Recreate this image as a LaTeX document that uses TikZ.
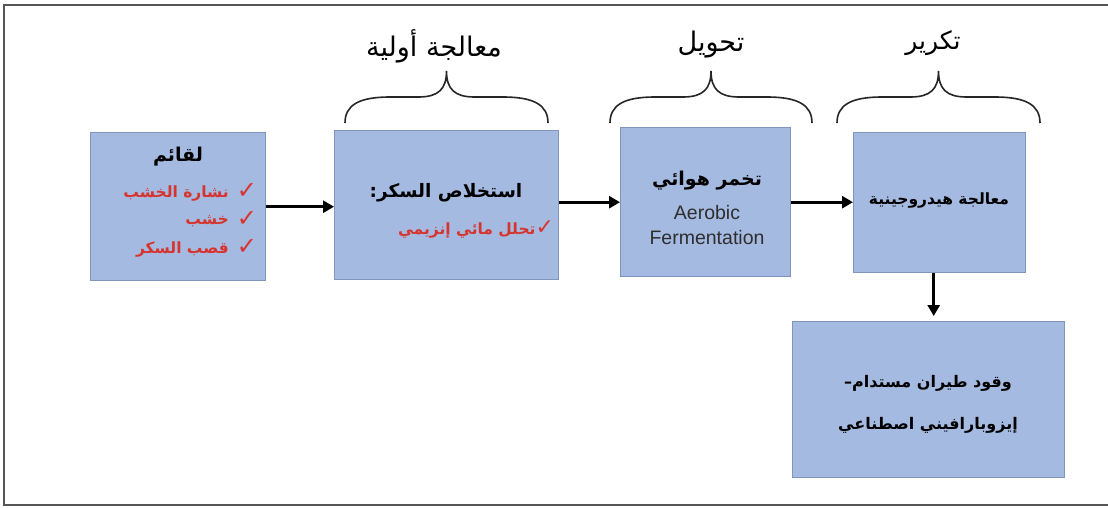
\documentclass[tikz,border=0pt]{standalone}
\usepackage{fontspec}
\setmainfont{Liberation Sans}
\newfontfamily\arabicfont[Script=Arabic]{DejaVu Sans}
\newfontfamily\symbolfont{DejaVu Sans}
\TeXXeTstate=1
\usetikzlibrary{arrows.meta}

\definecolor{boxfill}{HTML}{A5BAE1}
\definecolor{boxline}{HTML}{8194BE}
\definecolor{itemred}{HTML}{D6352F}
\definecolor{framegray}{HTML}{555555}
\definecolor{engtext}{HTML}{2E2E2E}

% right-to-left Arabic run
\newcommand{\artext}[1]{\beginR #1\endR}
% curly brace over a stage: left x, right x
\newcommand{\stagebrace}[2]{%
  \draw[bracepath] (#1,123) .. controls (#1,105) and ({#1+14},97) .. ({#1+45},97)
    -- ({(#1+#2)/2-28},97) .. controls ({(#1+#2)/2-8},97) and ({(#1+#2)/2},89) .. ({(#1+#2)/2},71)
    .. controls ({(#1+#2)/2},89) and ({(#1+#2)/2+8},97) .. ({(#1+#2)/2+28},97)
    -- ({#2-45},97) .. controls ({#2-14},97) and (#2,105) .. (#2,123);}

\begin{document}
\begin{tikzpicture}[x=1pt,y=-1pt,
  stagebox/.style={draw=boxline, fill=boxfill, line width=1.4pt, inner sep=0pt, anchor=north west},
  flowarrow/.style={-{Triangle[length=11pt,width=12pt]}, line width=3pt, black},
  bracepath/.style={line width=1.6pt, black!85},
  stagelabel/.style={font=\arabicfont\fontsize{27}{31}\selectfont},
  titletext/.style={font=\arabicfont\bfseries\fontsize{19}{22}\selectfont},
  itemtext/.style={font=\arabicfont\bfseries\fontsize{15.5}{18}\selectfont, text=itemred, anchor=east, inner sep=0pt},
  checkmark/.style={font=\symbolfont\fontsize{24}{26}\selectfont, text=itemred, inner sep=0pt},
  bodytext/.style={font=\arabicfont\bfseries\fontsize{16}{19}\selectfont},
  engfont/.style={font=\fontsize{19.5}{22}\selectfont, text=engtext}
]
\useasboundingbox (0,0) rectangle (1108,507);

% page frame
\draw[framegray, line width=2pt] (1108,5) -- (4,5) -- (4,505) -- (1108,505);

% stage boxes
\node[stagebox, minimum width=175pt, minimum height=148pt] (feed) at (90,132) {};
\node[stagebox, minimum width=224pt, minimum height=149pt] (pre) at (334,130) {};
\node[stagebox, minimum width=170pt, minimum height=149pt] (ferm) at (620,127) {};
\node[stagebox, minimum width=172pt, minimum height=140pt] (hydro) at (853,132) {};
\node[stagebox, minimum width=272pt, minimum height=156pt] (saf) at (792,321) {};

% braces and stage names
\stagebrace{345}{548}
\stagebrace{610}{812}
\stagebrace{837}{1040}
\node[stagelabel] (lblpre) at (434,46) {\artext{معالجة أولية}};
\node[stagelabel] (lblconv) at (711,45) {\artext{تحويل}};
\node[stagelabel, font=\arabicfont\fontsize{25}{29}\selectfont] (lblref) at (933,43) {\artext{تكرير}};

% feedstock
\node[titletext] (feedtitle) at (178,157) {\artext{لقائم}};
\node[itemtext] (item1) at (229,193) {\artext{نشارة الخشب}};
\node[itemtext] (item2) at (229,221) {\artext{خشب}};
\node[itemtext] (item3) at (229,249) {\artext{قصب السكر}};
\node[checkmark] (chk1) at (247,191) {✓};
\node[checkmark] (chk2) at (247,219) {✓};
\node[checkmark] (chk3) at (247,247) {✓};

% sugar extraction
\node[titletext, font=\arabicfont\bfseries\fontsize{18.5}{21}\selectfont] (pretitle) at (446,193) {:\artext{استخلاص السكر}};
\node[itemtext, anchor=center] (preitem) at (476,229) {\artext{تحلل مائي إنزيمي}{\symbolfont\fontsize{22}{24}\selectfont ✓}};

% fermentation
\node[titletext] (fermtitle) at (707,181) {\artext{تخمر هوائي}};
\node[engfont] (fermeng1) at (707,213) {Aerobic};
\node[engfont] (fermeng2) at (707,238) {Fermentation};

% hydroprocessing
\node[bodytext, font=\arabicfont\bfseries\fontsize{15.5}{18}\selectfont] (hydrotext) at (939,200) {\artext{معالجة هيدروجينية}};

% product
\node[bodytext] (saf1) at (928,383) {–\artext{وقود طيران مستدام}};
\node[bodytext] (saf2) at (928,425) {\artext{إيزوبارافيني اصطناعي}};

% flow arrows
\draw[flowarrow] (feed.east) -- (feed.east -| pre.west);
\draw[flowarrow] (pre.east |- ferm.west) -- (ferm.west);
\draw[flowarrow] (ferm.east) -- (ferm.east -| hydro.west);
\draw[flowarrow, shorten >=5pt] ([xshift=-6pt]hydro.south) -- ([xshift=-6pt]hydro.south |- saf.north);
\end{tikzpicture}
\end{document}
